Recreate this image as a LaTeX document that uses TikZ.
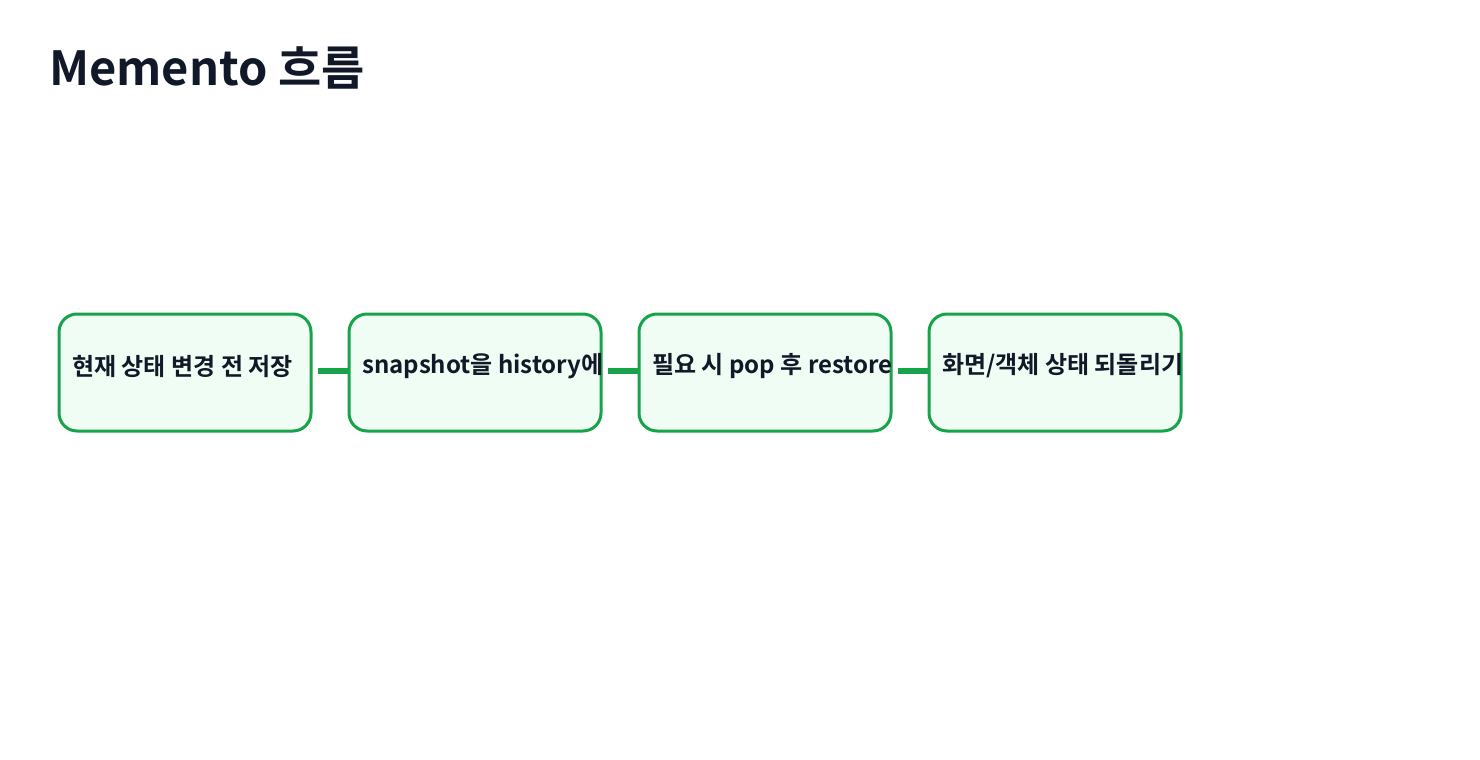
\documentclass[tikz,border=0pt]{standalone}
\usepackage{fontspec}
\setmainfont{Noto Sans CJK KR}[BoldFont={* Bold}]
\definecolor{gr}{HTML}{16A34A}
\definecolor{fillg}{HTML}{F0FDF4}
\definecolor{ink}{HTML}{111827}
\begin{document}
\begin{tikzpicture}[x=1pt,y=-1pt,
 box/.style={draw=gr,line width=3pt,fill=fillg,rounded corners=18pt,minimum width=252pt,minimum height=117pt,inner sep=0pt},
 lbl/.style={anchor=west,font=\bfseries\fontsize{24}{28}\selectfont,text=ink,inner sep=0pt},
 conn/.style={draw=gr,line width=6pt}]
\useasboundingbox (0,0) rectangle (1480,760);
\node[anchor=west,font=\bfseries\fontsize{47}{54}\selectfont,text=ink,inner sep=0pt] (title) at (49,68) {Memento 흐름};
\foreach \i/\x/\t in {1/56/{현재 상태 변경 전 저장},2/346/{snapshot을 history에},3/636/{필요 시 pop 후 restore},4/926/{화면/객체 상태 되돌리기}}{
  \node[box,anchor=north west] (b\i) at (\x+1.5,312.5) {};
  \node[lbl] (t\i) at (\x+16,366) {\t};
}
\coordinate (s1) at (318,371);
\coordinate (s2) at (608,371);
\coordinate (s3) at (898,371);
\draw[conn] (s1) -- (b2.west|-s1);
\draw[conn] (s2) -- (b3.west|-s2);
\draw[conn] (s3) -- (b4.west|-s3);
\end{tikzpicture}
\end{document}
